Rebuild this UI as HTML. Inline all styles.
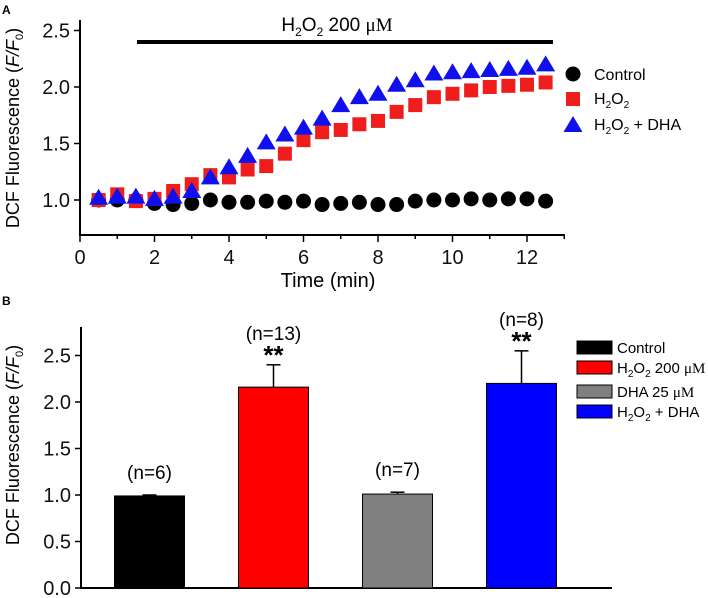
<!DOCTYPE html>
<html><head><meta charset="utf-8"><style>
body{margin:0;background:#fff}
svg{display:block;font-family:"Liberation Sans",Arial,sans-serif}
.tk{font-size:20px;fill:#111}
</style></head><body>
<svg id="s" width="708" height="598" viewBox="0 0 708 598">
<text x="2" y="14" font-size="12" font-weight="bold">A</text>
<text x="2" y="305" font-size="12" font-weight="bold">B</text>
<g id="top"></g>
<g id="bot"></g>
</svg>
<script>
const times=[0.5,1,1.5,2,2.5,3,3.5,4,4.5,5,5.5,6,6.5,7,7.5,8,8.5,9,9.5,10,10.5,11,11.5,12,12.5];
const controlVals=[1.0,1.0,1.0,0.97,0.96,0.97,1.0,0.98,0.98,0.99,0.98,0.99,0.96,0.97,0.98,0.96,0.96,0.99,1.0,1.0,1.01,1.0,1.01,1.01,0.99];
const h2o2Vals=[1.0,1.05,0.99,1.01,1.08,1.14,1.22,1.2,1.27,1.3,1.41,1.53,1.6,1.62,1.67,1.7,1.78,1.84,1.91,1.94,1.97,2.0,2.01,2.02,2.04];
const dhaVals=[1.02,1.03,1.03,1.01,1.03,1.08,1.2,1.29,1.39,1.51,1.58,1.64,1.72,1.84,1.91,1.94,2.02,2.06,2.12,2.13,2.14,2.15,2.16,2.17,2.2];
const xTicks=[0,2,4,6,8,10,12];
const yTicksTop=[1.0,1.5,2.0,2.5];
const barCats=["Control","H2O2 200 uM","DHA 25 uM","H2O2 + DHA"];
const barVals=[0.99,2.16,1.01,2.2];
const barErr=[0.01,0.24,0.02,0.35];
const barN=["(n=6)","(n=13)","(n=7)","(n=8)"];
const barSig=["","**","","**"];
const yTicksBot=[0.0,0.5,1.0,1.5,2.0,2.5];

const NS="http://www.w3.org/2000/svg";
function mk(p,t,a,txt){const e=document.createElementNS(NS,t);for(const k in a)e.setAttribute(k,a[k]);if(txt!=null)e.textContent=txt;p.appendChild(e);return e;}

const T=document.getElementById('top');
const tx=v=>80+v*37.25, ty=v=>200-(v-1)*113;
let e;
e=mk(T,'line',{x1:80,y1:20,x2:80,y2:235,stroke:'#000','stroke-width':2});

e=mk(T,'line',{x1:79,y1:235,x2:565,y2:235,stroke:'#000','stroke-width':2});

for(let m=0;m<=13;m++){mk(T,'line',{x1:tx(m),y1:235,x2:tx(m),y2:m%2?239:242,stroke:'#000','stroke-width':1.5});}
xTicks.forEach(v=>{e=mk(T,'text',{x:tx(v),y:264,'text-anchor':'middle',class:'tk'},String(v));
});
yTicksTop.forEach(v=>{mk(T,'line',{x1:74,y1:ty(v),x2:80,y2:ty(v),stroke:'#000','stroke-width':1.5});
e=mk(T,'text',{x:70,y:ty(v)+7,'text-anchor':'end',class:'tk'},v.toFixed(1));
});
e=mk(T,'text',{x:328,y:287,'text-anchor':'middle','font-size':20},'Time (min)');

e=mk(T,'text',{transform:'translate(19,128) rotate(-90)','text-anchor':'middle','font-size':18});
e.innerHTML='DCF Fluorescence (<tspan font-style="italic">F/F</tspan><tspan font-size="11" dy="4">0</tspan><tspan dy="-4">)</tspan>';

e=mk(T,'line',{x1:137,y1:42,x2:553,y2:42,stroke:'#000','stroke-width':4});

e=mk(T,'text',{x:337,y:31,'text-anchor':'middle','font-size':19});
e.innerHTML='H<tspan font-size="12" dy="5">2</tspan><tspan dy="-5">O</tspan><tspan font-size="12" dy="5">2</tspan><tspan dy="-5"> 200 </tspan><tspan font-family="Liberation Serif">μM</tspan>';

function circ(x,y,g){return mk(g,'circle',{cx:x,cy:y,r:7.5,fill:'#000'});}
function sq(x,y,g){return mk(g,'rect',{x:x-7,y:y-7,width:14,height:14,fill:'#f01d1d'});}
function tri(x,y,g){return mk(g,'polygon',{points:`${x},${y-9} ${x-9.5},${y+7} ${x+9.5},${y+7}`,fill:'#1010ee'});}
times.forEach((t,i)=>{e=circ(tx(t),ty(controlVals[i]),T);});
times.forEach((t,i)=>{e=sq(tx(t),ty(h2o2Vals[i]),T);});
times.forEach((t,i)=>{e=tri(tx(t),ty(dhaVals[i]),T);});
const lg=mk(T,'g',{});
circ(573,74,lg);sq(573,99,lg);tri(573,125,lg);
mk(lg,'text',{x:594,y:80,'font-size':16},'Control');
e=mk(lg,'text',{x:594,y:104,'font-size':16});e.innerHTML='H<tspan font-size="10" dy="4">2</tspan><tspan dy="-4">O</tspan><tspan font-size="10" dy="4">2</tspan>';
e=mk(lg,'text',{x:594,y:130,'font-size':16});e.innerHTML='H<tspan font-size="10" dy="4">2</tspan><tspan dy="-4">O</tspan><tspan font-size="10" dy="4">2</tspan><tspan dy="-4"> + DHA</tspan>';

const B=document.getElementById('bot');
const by=v=>588-v*93;
e=mk(B,'line',{x1:81,y1:327,x2:81,y2:588,stroke:'#000','stroke-width':2});

e=mk(B,'line',{x1:80,y1:588,x2:612,y2:588,stroke:'#000','stroke-width':2});

yTicksBot.forEach(v=>{mk(B,'line',{x1:75,y1:by(v),x2:81,y2:by(v),stroke:'#000','stroke-width':1.5});
e=mk(B,'text',{x:71,y:by(v)+7,'text-anchor':'end',class:'tk'},v.toFixed(1));
});
e=mk(B,'text',{transform:'translate(19,445) rotate(-90)','text-anchor':'middle','font-size':18});
e.innerHTML='DCF Fluorescence (<tspan font-style="italic">F/F</tspan><tspan font-size="11" dy="4">0</tspan><tspan dy="-4">)</tspan>';

const cols=['#000','#ff0000','#808080','#0000ff'];
barVals.forEach((v,i)=>{const cx=149.5+i*124;
 mk(B,'line',{x1:cx,y1:by(v),x2:cx,y2:by(v+barErr[i]),stroke:'#000','stroke-width':1.5});
 mk(B,'line',{x1:cx-7,y1:by(v+barErr[i]),x2:cx+7,y2:by(v+barErr[i]),stroke:'#000','stroke-width':1.5});
 e=mk(B,'rect',{x:cx-35,y:by(v),width:70,height:588-by(v),fill:cols[i],stroke:'#000','stroke-width':1});
 
 const top=by(v+barErr[i]);
 if(barSig[i]){e=mk(B,'text',{x:cx,y:top-1,'text-anchor':'middle','font-size':26,'font-weight':'bold'},barSig[i]);
  }
 e=mk(B,'text',{x:cx,y:barSig[i]?top-25:top-16,'text-anchor':'middle','font-size':19},barN[i]);
 
});
const lg2=mk(B,'g',{});
const ly=[341,361,385,405];
const ltxt=['Control','H<tspan font-size="10" dy="4">2</tspan><tspan dy="-4">O</tspan><tspan font-size="10" dy="4">2</tspan><tspan dy="-4"> 200 </tspan><tspan font-family="Liberation Serif">μM</tspan>','DHA 25 <tspan font-family="Liberation Serif">μM</tspan>','H<tspan font-size="10" dy="4">2</tspan><tspan dy="-4">O</tspan><tspan font-size="10" dy="4">2</tspan><tspan dy="-4"> + DHA</tspan>'];
ly.forEach((y,i)=>{mk(lg2,'rect',{x:577,y:y,width:35,height:13,fill:cols[i],stroke:'#000','stroke-width':1});
 e=mk(lg2,'text',{x:617,y:y+12,'font-size':15});e.innerHTML=ltxt[i];});
</script>
</body></html>
